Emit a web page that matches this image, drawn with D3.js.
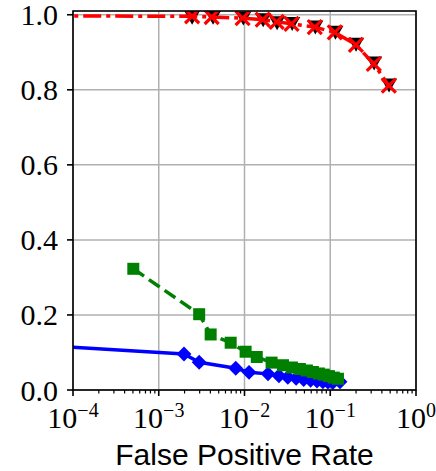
<!DOCTYPE html>
<html>
<head>
<meta charset="utf-8">
<script src="https://cdnjs.cloudflare.com/ajax/libs/d3/7.8.5/d3.min.js"></script>
<style>
body { margin:0; background:#fff; }
svg { display:block; }
</style>
</head>
<body>
<script>
// data
var blueX = [1e-5, 1.97e-3, 2.96e-3, 7.9e-3, 1.13e-2, 1.88e-2, 2.52e-2, 3.2e-2, 4.0e-2, 4.9e-2, 5.9e-2, 7.0e-2, 8.2e-2, 9.4e-2, 0.107, 0.13];
var blueY = [0.128, 0.096, 0.074, 0.058, 0.047, 0.043, 0.038, 0.034, 0.031, 0.028, 0.026, 0.024, 0.022, 0.021, 0.020, 0.022];

var greenX = [5.05e-4, 2.96e-3, 4.03e-3, 6.9e-3, 1.03e-2, 1.39e-2, 2.07e-2, 2.81e-2, 3.57e-2, 4.43e-2, 5.34e-2, 6.27e-2, 7.37e-2, 8.42e-2, 9.64e-2, 0.110, 0.123];
var greenY = [0.323, 0.202, 0.148, 0.126, 0.102, 0.088, 0.073, 0.066, 0.060, 0.056, 0.052, 0.048, 0.044, 0.041, 0.037, 0.033, 0.030];

var blackX = [2.45e-3, 4.3e-3, 9.7e-3, 1.65e-2, 2.4e-2, 3.6e-2, 6.7e-2, 0.115, 0.2, 0.325, 0.485];
var blackY = [0.995, 0.995, 0.993, 0.988, 0.980, 0.978, 0.969, 0.955, 0.923, 0.873, 0.814];

var redX = [1e-5, 2.45e-3, 4.14e-3, 9.5e-3, 1.63e-2, 2.37e-2, 3.54e-2, 6.6e-2, 0.113, 0.199, 0.322, 0.482];
var redY = [0.997, 0.996, 0.994, 0.991, 0.987, 0.981, 0.976, 0.967, 0.953, 0.920, 0.869, 0.811];

var xTicks = [1e-4, 1e-3, 1e-2, 1e-1, 1];
var xTickExp = ["\u22124", "\u22123", "\u22122", "\u22121", "0"];
var yTicks = [0.0, 0.2, 0.4, 0.6, 0.8, 1.0];

var W = 436, H = 471;
var pLeft = 73, pRight = 416, pTop = 11, pBottom = 390;

var svg = d3.select('body').append('svg').attr('width', W).attr('height', H);

var x = d3.scaleLog().domain([1e-4, 1]).range([pLeft, pRight]);
var y = d3.scaleLinear().domain([0, 1.01]).range([pBottom, pTop]);

function zip(a, b){ return a.map(function(v,i){ return [v, b[i]]; }); }

svg.append('clipPath').attr('id', 'clip')
  .append('rect').attr('x', pLeft).attr('y', pTop).attr('width', pRight-pLeft).attr('height', pBottom-pTop);

// grid
var grid = svg.append('g');
grid.selectAll('.gx').data(xTicks).enter().append('line')
  .attr('x1', function(d){ return x(d); }).attr('x2', function(d){ return x(d); })
  .attr('y1', pTop).attr('y2', pBottom)
  .attr('stroke', '#b0b0b0').attr('stroke-width', 1.5);
grid.selectAll('.gy').data(yTicks).enter().append('line')
  .attr('y1', function(d){ return y(d); }).attr('y2', function(d){ return y(d); })
  .attr('x1', pLeft).attr('x2', pRight)
  .attr('stroke', '#b0b0b0').attr('stroke-width', 1.5);

var plot = svg.append('g').attr('clip-path', 'url(#clip)');
var line = d3.line().x(function(d){ return x(d[0]); }).y(function(d){ return y(d[1]); });

// blue solid + diamonds
var blue = zip(blueX, blueY);
plot.append('path').datum(blue).attr('d', line)
  .attr('fill', 'none').attr('stroke', '#0000ff').attr('stroke-width', 3.5);
plot.selectAll('.bd').data(blue).enter().append('path')
  .attr('d', d3.symbol().type(d3.symbolSquare).size(110)())
  .attr('transform', function(d){ return 'translate(' + x(d[0]) + ',' + y(d[1]) + ') rotate(45)'; })
  .attr('fill', '#0000ff');

// green dashed + squares
var green = zip(greenX, greenY);
plot.append('path').datum(green).attr('d', line)
  .attr('fill', 'none').attr('stroke', '#008000').attr('stroke-width', 3.5)
  .attr('stroke-dasharray', '13,6');
plot.selectAll('.gs').data(green).enter().append('rect')
  .attr('x', function(d){ return x(d[0]) - 6; })
  .attr('y', function(d){ return y(d[1]) - 6; })
  .attr('width', 12).attr('height', 12)
  .attr('fill', '#008000');

// black triangles (down)
var black = zip(blackX, blackY);
plot.selectAll('.kt').data(black).enter().append('path')
  .attr('d', 'M-8,-6L8,-6L0,8Z')
  .attr('transform', function(d){ return 'translate(' + x(d[0]) + ',' + y(d[1]) + ')'; })
  .attr('fill', '#000');

// red dash-dot + x markers
var red = zip(redX, redY);
plot.append('path').datum(red).attr('d', line)
  .attr('fill', 'none').attr('stroke', '#ff0000').attr('stroke-width', 3.5)
  .attr('stroke-dasharray', '18,5,4,5');
plot.selectAll('.rx').data(red).enter().append('path')
  .attr('d', 'M-7,-7L7,7M-7,7L7,-7')
  .attr('transform', function(d){ return 'translate(' + x(d[0]) + ',' + y(d[1]) + ')'; })
  .attr('stroke', '#ff0000').attr('stroke-width', 3.2).attr('fill', 'none');

// frame
svg.append('rect').attr('x', pLeft).attr('y', pTop).attr('width', pRight-pLeft).attr('height', pBottom-pTop)
  .attr('fill', 'none').attr('stroke', '#000').attr('stroke-width', 1.6);

// x axis ticks (major + minor)
var minor = [];
for (var e = -4; e < 0; e++) {
  for (var k = 2; k < 10; k++) minor.push(k * Math.pow(10, e));
}
svg.selectAll('.xmin').data(minor).enter().append('line')
  .attr('x1', function(d){ return x(d); }).attr('x2', function(d){ return x(d); })
  .attr('y1', pBottom).attr('y2', pBottom + 3.5)
  .attr('stroke', '#000').attr('stroke-width', 1.2);
svg.selectAll('.xmaj').data(xTicks).enter().append('line')
  .attr('x1', function(d){ return x(d); }).attr('x2', function(d){ return x(d); })
  .attr('y1', pBottom).attr('y2', pBottom + 6)
  .attr('stroke', '#000').attr('stroke-width', 1.6);

var xl = svg.selectAll('.xl').data(xTicks).enter().append('text')
  .attr('x', function(d){ return x(d); }).attr('y', 428)
  .attr('text-anchor', 'middle')
  .attr('font-family', 'Liberation Serif, serif').attr('font-size', 30).attr('fill', '#000');
xl.append('tspan').text('10');
xl.append('tspan').attr('dy', -11).attr('font-size', 20).text(function(d,i){ return xTickExp[i]; });

// y axis ticks
svg.selectAll('.ymaj').data(yTicks).enter().append('line')
  .attr('y1', function(d){ return y(d); }).attr('y2', function(d){ return y(d); })
  .attr('x1', pLeft - 6).attr('x2', pLeft)
  .attr('stroke', '#000').attr('stroke-width', 1.6);
svg.selectAll('.yl').data(yTicks).enter().append('text')
  .attr('x', 58).attr('y', function(d){ return y(d) + 10.5; })
  .attr('text-anchor', 'end')
  .attr('font-family', 'Liberation Serif, serif').attr('font-size', 30).attr('fill', '#000')
  .text(function(d){ return d.toFixed(1); });

// x label
svg.append('text').attr('x', (pLeft + pRight) / 2).attr('y', 465)
  .attr('text-anchor', 'middle')
  .attr('font-family', 'Liberation Sans, Arial, sans-serif').attr('font-size', 30).attr('fill', '#000')
  .text('False Positive Rate');
</script>
</body>
</html>
